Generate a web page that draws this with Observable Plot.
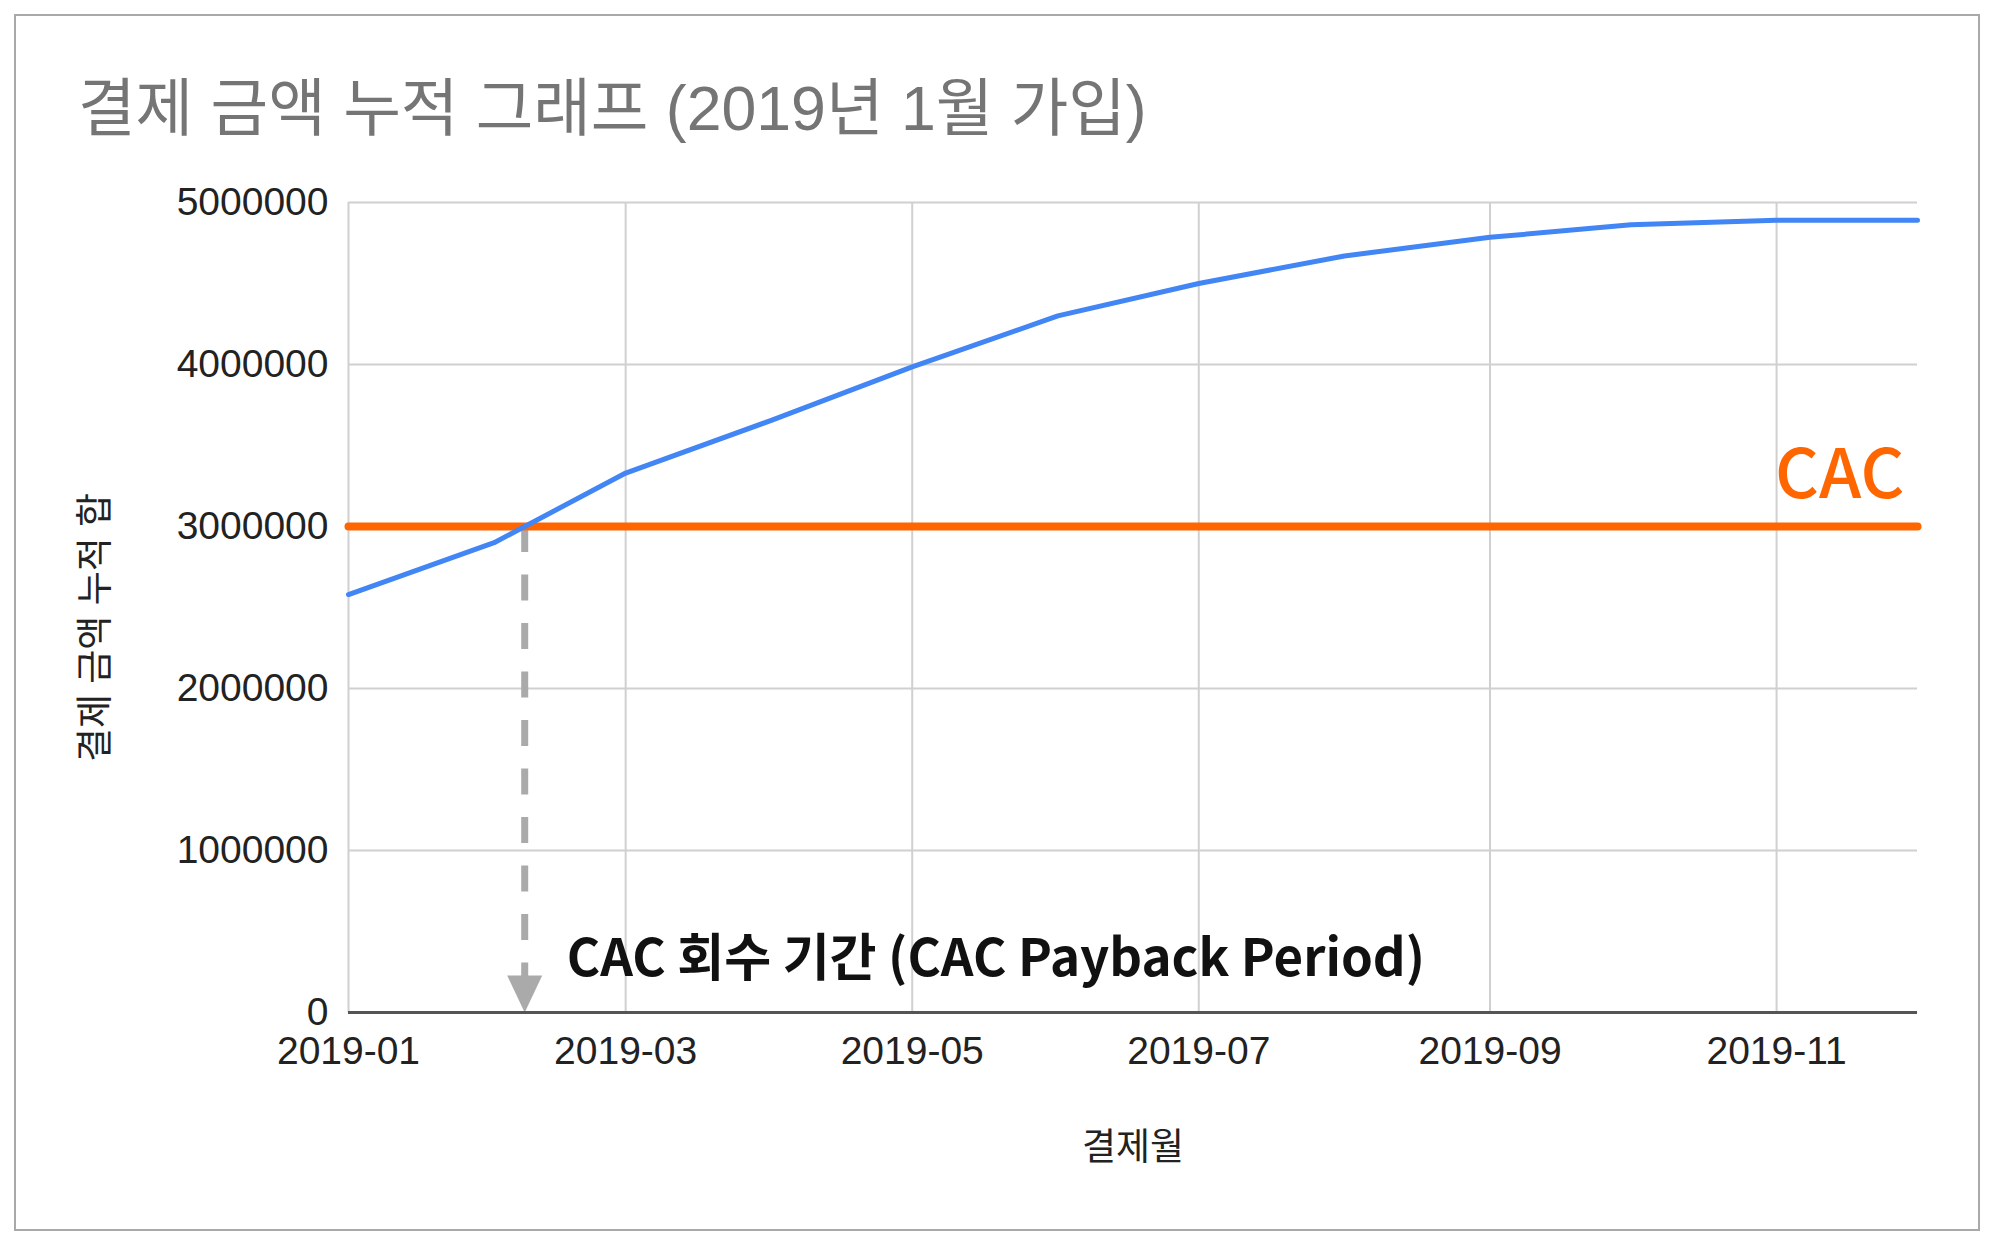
<!DOCTYPE html>
<html>
<head>
<meta charset="utf-8">
<script src="https://cdn.jsdelivr.net/npm/d3@7"></script>
<script src="https://cdn.jsdelivr.net/npm/@observablehq/plot@0.6"></script>
<style>
  html, body { margin: 0; padding: 0; background: #fff; }
  #wrap { position: relative; width: 2000px; height: 1249px; overflow: hidden; background: #fff; }
  #frame { position: absolute; left: 14px; top: 14px; width: 1966px; height: 1217px; border: 2px solid #a9a9a9; box-sizing: border-box; }
  #title { position: absolute; left: 78px; top: 77px; font-family: "Liberation Sans", "Noto Sans CJK KR", sans-serif; font-size: 62.6px; line-height: 1; color: #757575; white-space: nowrap; }
  #chart { position: absolute; left: 0; top: 0; }
</style>
</head>
<body>
<div id="wrap">
  <div id="frame"></div>
  <div id="chart"></div>
  <div id="title"></div>
</div>
<script>
// ---- data ----
const months = ["2019-01","2019-02","2019-03","2019-04","2019-05","2019-06","2019-07","2019-08","2019-09","2019-10","2019-11","2019-12"];
const cumulative = [2580000, 2900000, 3330000, 3655000, 3985000, 4300000, 4500000, 4670000, 4785000, 4862000, 4890000, 4890000];
const cac = 3000000;
const yTicks = [0, 1000000, 2000000, 3000000, 4000000, 5000000];
const xTickLabels = ["2019-01","2019-03","2019-05","2019-07","2019-09","2019-11"];
const titleText = "결제 금액 누적 그래프 (2019년 1월 가입)";
const yLabel = "결제 금액 누적 합";
const xLabel = "결제월";
const cacLabel = "CAC";
const paybackLabel = "CAC 회수 기간 (CAC Payback Period)";

// ---- derived ----
const parse = d3.utcParse("%Y-%m");
const data = months.map((m, i) => ({date: parse(m), value: cumulative[i]}));
const xTicks = xTickLabels.map(parse);
const first = data[0].date, last = data[data.length - 1].date;

// crossing of the cumulative line with the CAC level (linear interpolation in time)
let payback = first;
for (let i = 1; i < data.length; i++) {
  const a = data[i - 1], b = data[i];
  if (a.value < cac && b.value >= cac) {
    const t = (cac - a.value) / (b.value - a.value);
    payback = new Date(+a.date + t * (b.date - a.date));
    break;
  }
}
const cacLine = [{date: first, value: cac}, {date: last, value: cac}];

const arrowHead = {
  draw(context) {
    context.moveTo(0, 0);
    context.lineTo(-17.5, -37);
    context.lineTo(17.5, -37);
    context.closePath();
  }
};

const sans = '"Liberation Sans", "Noto Sans CJK KR", sans-serif';
const noto = '"Noto Sans CJK KR", "Noto Sans", sans-serif';

document.getElementById("title").textContent = titleText;

const chart = Plot.plot({
  width: 2000,
  height: 1249,
  marginLeft: 348,
  marginRight: 83,
  marginTop: 202,
  marginBottom: 237,
  style: {fontFamily: sans, fontSize: "39px", color: "#222", background: "transparent", overflow: "visible"},
  x: {type: "utc", domain: [first, last]},
  y: {domain: [0, 5000000]},
  marks: [
    Plot.gridY(yTicks, {stroke: "#d0d0d0", strokeOpacity: 1, strokeWidth: 2}),
    Plot.gridX(xTicks, {stroke: "#d0d0d0", strokeOpacity: 1, strokeWidth: 2}),
    Plot.axisY(yTicks, {tickSize: 0, tickPadding: 20, fontSize: 39, tickFormat: d3.format("d"), label: null}),
    Plot.axisX(xTicks, {tickSize: 0, tickPadding: 24, fontSize: 39, tickFormat: d3.utcFormat("%Y-%m"), label: null}),
    Plot.ruleX([payback], {y1: () => cac, y2: () => 0, stroke: "#aaaaaa", strokeWidth: 7, strokeDasharray: "26 22.5"}),
    Plot.dot([payback], {x: d => d, y: () => 0, symbol: arrowHead, fill: "#aaaaaa", stroke: null, r: 10}),
    Plot.ruleY([0], {stroke: "#555555", strokeWidth: 3}),
    Plot.line(cacLine, {x: "date", y: "value", stroke: "#ff6600", strokeWidth: 8}),
    Plot.line(data, {x: "date", y: "value", stroke: "#4285f4", strokeWidth: 5}),
    Plot.text([cacLine[1]], {x: "date", y: "value", text: () => cacLabel, textAnchor: "end", lineAnchor: "middle", dx: -13, dy: -50, fill: "#ff6600", fontSize: 68, fontFamily: noto, fontWeight: 500}),
    Plot.text([payback], {x: d => d, frameAnchor: "bottom", text: () => paybackLabel, textAnchor: "start", lineAnchor: "middle", dx: 42, dy: -53, fill: "#111", fontSize: 51, fontFamily: noto, fontWeight: 700}),
    Plot.text([yLabel], {frameAnchor: "left", text: d => d, rotate: -90, textAnchor: "middle", lineAnchor: "middle", dx: -252, dy: 20, fontSize: 37, fill: "#222"}),
    Plot.text([xLabel], {frameAnchor: "bottom", text: d => d, textAnchor: "middle", lineAnchor: "middle", dy: 136, fontSize: 37, fill: "#222"})
  ]
});
document.getElementById("chart").appendChild(chart);
</script>
</body>
</html>
